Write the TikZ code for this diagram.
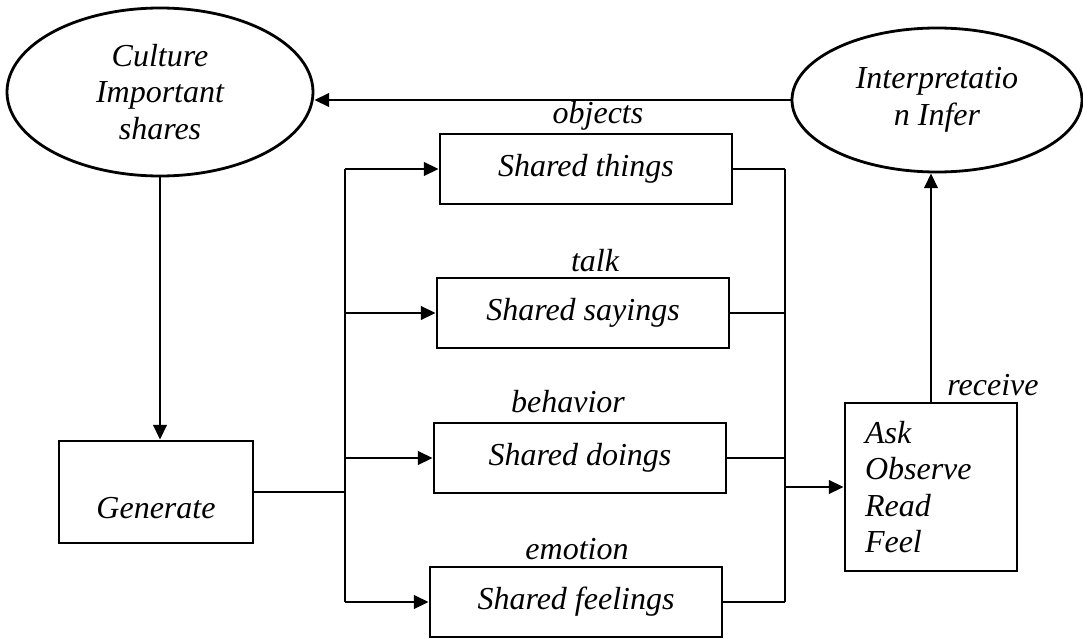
\documentclass[tikz,border=0pt]{standalone}
\usepackage{fontspec}
\setmainfont{Liberation Serif}
\usetikzlibrary{arrows.meta,shapes.geometric}
\begin{document}
\begin{tikzpicture}[x=0.75pt,y=-0.75pt,
  every node/.style={font=\fontsize{24}{27.5}\selectfont\itshape},
  ln/.style={line width=2.1pt},
  arr/.style={ln,-{Triangle[length=11pt,width=10pt]}},
  oval/.style={ellipse,draw,line width=2.1pt,inner sep=0pt,align=center},
  stepbox/.style={rectangle,draw,line width=2.1pt,minimum width=219pt,minimum height=52.5pt,inner sep=0pt},
  lbl/.style={inner sep=0pt}]
\useasboundingbox (0,0) rectangle (1083,639);

% ellipses
\node[oval,minimum width=229.5pt,minimum height=126pt] (culture) at (160,92) {Culture\\Important\\shares};
\node[oval,minimum width=217.5pt,minimum height=108pt] (interp) at (937,100) {Interpretatio\\n Infer};

% generate box
\node[rectangle,draw,line width=2.1pt,minimum width=145.5pt,minimum height=76.5pt,inner sep=0pt,
      text height=40pt,text depth=0pt] (gen) at (156,492) {Generate};

% the four shared boxes
\node[stepbox] (things)   at (586,169) {Shared things};
\node[stepbox] (sayings)  at (583,313) {Shared sayings};
\node[stepbox] (doings)   at (580,458) {Shared doings};
\node[stepbox] (feelings) at (576,602) {Shared feelings};

% labels above the boxes
\node[lbl] (objects)  at (598,116) {objects};
\node[lbl] (talk)     at (595,261) {talk};
\node[lbl] (behavior) at (568,402) {behavior};
\node[lbl] (emotion)  at (577,549) {emotion};

% receiving box
\node[rectangle,draw,line width=2.1pt,minimum width=129pt,minimum height=126pt,
      inner xsep=15pt,inner ysep=0pt,text width=99pt,align=left,
      font=\fontsize{24}{27.4}\selectfont\itshape] (recv) at (931,487) {Ask\\Observe\\Read\\Feel};
\node[lbl] (receive) at (993,385) {receive};

% branching points
\coordinate (lt) at (345,169);
\coordinate (lb) at (345,602);
\coordinate (rt) at (785,169);
\coordinate (rb) at (785,602);

% connectors
\draw[arr] (interp.west) -- (interp.west -| culture.east);
\draw[arr] (culture.south) -- (culture.south |- gen.north);
\draw[ln] (gen.east) -- (gen.east -| lt);
\draw[ln] (lt) -- (lb);
\draw[arr] (lt) -- (things.west);
\draw[arr] (sayings.west -| lt) -- (sayings.west);
\draw[arr] (doings.west -| lt) -- (doings.west);
\draw[arr] (lb) -- (feelings.west);
\draw[ln] (things.east) -- (rt);
\draw[ln] (sayings.east) -- (sayings.east -| rt);
\draw[ln] (doings.east) -- (doings.east -| rt);
\draw[ln] (feelings.east) -- (rb);
\draw[ln] (rt) -- (rb);
\draw[arr] (recv.west -| rt) -- (recv.west);
\draw[arr] (recv.north) -- (recv.north |- interp.south);
\end{tikzpicture}
\end{document}
